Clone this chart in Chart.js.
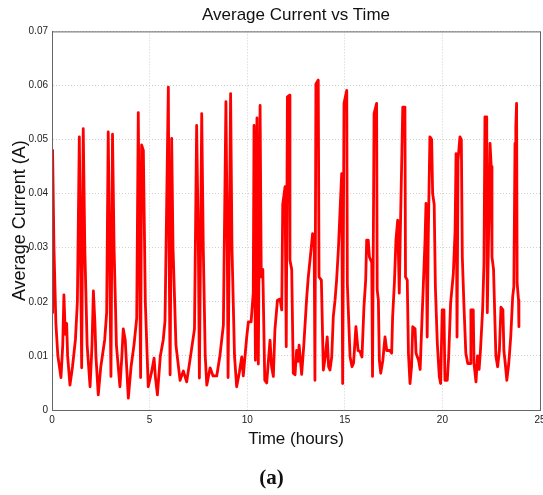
<!DOCTYPE html>
<html>
<head>
<meta charset="utf-8">
<script src="https://cdn.jsdelivr.net/npm/chart.js@4"></script>
<style>
  body { margin: 0; background: #fff; }
  .wrap { position: relative; width: 543px; height: 495px; }
  .caption {
    position: absolute; left: 0; width: 543px; top: 465px;
    text-align: center; font: bold 21px "Liberation Serif", "Times New Roman", serif; color: #111;
  }
</style>
</head>
<body>
<div class="wrap">
  <canvas id="chart1" width="543" height="495"></canvas>
  <div class="caption">(a)</div>
</div>
<script>
// time in hours
const hours = [
  0, 0.03, 0.1, 0.2, 0.3, 0.46, 0.55, 0.61, 0.68, 0.75, 0.8, 0.92, 1.05, 1.2, 1.3, 1.4, 1.46, 1.52, 1.6, 1.68,
  1.8, 1.95, 2.05, 2.12, 2.2, 2.25, 2.37, 2.5, 2.7, 2.8, 2.88, 2.95, 3.02, 3.1, 3.18, 3.3, 3.48, 3.58, 3.65, 3.75,
  3.91, 4.05, 4.2, 4.34, 4.42, 4.48, 4.54, 4.59, 4.68, 4.78, 4.93, 5.1, 5.23, 5.3, 5.4, 5.55, 5.7, 5.79, 5.96, 6.0,
  6.05, 6.13, 6.2, 6.35, 6.56, 6.73, 6.9, 7.1, 7.3, 7.41, 7.5, 7.55, 7.67, 7.75, 7.85, 7.93, 8.1, 8.25, 8.44, 8.6,
  8.78, 8.91, 8.98, 9.02, 9.15, 9.22, 9.35, 9.46, 9.6, 9.72, 9.8, 9.97, 10.06, 10.2, 10.31, 10.35, 10.42, 10.5, 10.57, 10.66,
  10.72, 10.8, 10.9, 11.0, 11.08, 11.17, 11.25, 11.34, 11.42, 11.55, 11.68, 11.77, 11.82, 11.94, 12.0, 12.06, 12.16, 12.19, 12.28, 12.36,
  12.45, 12.53, 12.6, 12.66, 12.79, 12.9, 13.05, 13.13, 13.27, 13.35, 13.43, 13.47, 13.52, 13.64, 13.68, 13.8, 13.9, 14.0, 14.1, 14.17,
  14.24, 14.33, 14.41, 14.5, 14.58, 14.67, 14.75, 14.84, 14.89, 14.96, 15.1, 15.13, 15.27, 15.37, 15.45, 15.57, 15.68, 15.78, 15.88, 15.98,
  16.07, 16.12, 16.2, 16.26, 16.38, 16.42, 16.5, 16.63, 16.66, 16.72, 16.77, 16.84, 16.95, 17.06, 17.15, 17.3, 17.4, 17.45, 17.54, 17.62,
  17.71, 17.79, 17.85, 17.97, 18.08, 18.11, 18.2, 18.26, 18.34, 18.42, 18.48, 18.6, 18.65, 18.78, 18.86, 18.94, 19.02, 19.11, 19.16, 19.22,
  19.28, 19.36, 19.45, 19.5, 19.58, 19.64, 19.74, 19.84, 19.91, 19.99, 20.08, 20.13, 20.25, 20.32, 20.42, 20.56, 20.65, 20.7, 20.75, 20.8,
  20.9, 20.97, 21.02, 21.1, 21.2, 21.3, 21.42, 21.46, 21.58, 21.62, 21.72, 21.8, 21.88, 21.95, 22.06, 22.13, 22.18, 22.27, 22.3, 22.36,
  22.44, 22.5, 22.54, 22.62, 22.68, 22.74, 22.83, 22.92, 23.0, 23.1, 23.15, 23.22, 23.3, 23.4, 23.5, 23.6, 23.66, 23.72, 23.76, 23.8,
  23.83, 23.9, 23.92
];
// average current in A
const current = [
  0.018, 0.048, 0.030, 0.016, 0.010, 0.006, 0.012, 0.0213, 0.014, 0.016, 0.010, 0.0046, 0.008, 0.013, 0.020, 0.0505, 0.030, 0.0078, 0.052, 0.030,
  0.012, 0.0043, 0.012, 0.022, 0.016, 0.010, 0.0028, 0.008, 0.013, 0.018, 0.0514, 0.030, 0.0062, 0.051, 0.030, 0.012, 0.0043, 0.010, 0.015, 0.013,
  0.0022, 0.008, 0.012, 0.017, 0.055, 0.030, 0.006, 0.049, 0.048, 0.020, 0.0043, 0.007, 0.0096, 0.006, 0.0028, 0.010, 0.013, 0.0165, 0.0597, 0.030,
  0.0065, 0.0502, 0.030, 0.012, 0.0055, 0.0072, 0.0052, 0.010, 0.015, 0.0526, 0.030, 0.0059, 0.0548, 0.030, 0.010, 0.0046, 0.0078, 0.0063, 0.0063, 0.010,
  0.0157, 0.057, 0.030, 0.006, 0.0585, 0.030, 0.010, 0.0043, 0.007, 0.0098, 0.0063, 0.0133, 0.0163, 0.0163, 0.0216, 0.0526, 0.0092, 0.054, 0.0085, 0.0563,
  0.0246, 0.026, 0.0055, 0.005, 0.0088, 0.0129, 0.008, 0.0062, 0.0148, 0.0203, 0.0205, 0.0185, 0.038, 0.0413, 0.0117, 0.0579, 0.0582, 0.0277, 0.026, 0.0068,
  0.0065, 0.011, 0.009, 0.012, 0.0066, 0.012, 0.0209, 0.0246, 0.0296, 0.0326, 0.032, 0.0055, 0.0603, 0.061, 0.0246, 0.024, 0.0074, 0.0098, 0.0135, 0.008,
  0.0074, 0.0098, 0.0172, 0.0203, 0.024, 0.0296, 0.0363, 0.0437, 0.0049, 0.0567, 0.0591, 0.0234, 0.0098, 0.008, 0.0087, 0.0154, 0.011, 0.0108, 0.0098, 0.019,
  0.024, 0.0314, 0.0314, 0.0283, 0.0273, 0.0062, 0.0548, 0.0567, 0.0222, 0.0203, 0.0092, 0.0068, 0.0092, 0.0135, 0.011, 0.011, 0.0105, 0.0172, 0.0234, 0.0314,
  0.0351, 0.0216, 0.0339, 0.056, 0.056, 0.0246, 0.024, 0.0105, 0.0049, 0.008, 0.0154, 0.015, 0.0105, 0.0092, 0.0075, 0.0154, 0.0228, 0.0314, 0.0382, 0.0135,
  0.033, 0.0505, 0.050, 0.040, 0.038, 0.0228, 0.0123, 0.0062, 0.0049, 0.0185, 0.0185, 0.0055, 0.0055, 0.0098, 0.0197, 0.0252, 0.0332, 0.0474, 0.0135, 0.0462,
  0.0505, 0.050, 0.0283, 0.0197, 0.0105, 0.0086, 0.0086, 0.0185, 0.0185, 0.0086, 0.0052, 0.010, 0.0075, 0.011, 0.0185, 0.0271, 0.0542, 0.0542, 0.018, 0.031,
  0.0493, 0.045, 0.0283, 0.026, 0.0179, 0.010, 0.008, 0.011, 0.019, 0.0185, 0.011, 0.0086, 0.0055, 0.0086, 0.0135, 0.0209, 0.0228, 0.0493, 0.0523, 0.0567,
  0.0234, 0.0203, 0.0154
];
const xTicks = [0, 5, 10, 15, 20, 25];
const yTicks = [0, 0.01, 0.02, 0.03, 0.04, 0.05, 0.06, 0.07];

const points = hours.map((h, i) => ({ x: h, y: current[i] }));

const font = "'Liberation Sans', Arial, sans-serif";

// box round the plot area, like matlab
const boxPlugin = {
  id: "box",
  afterDraw(chart) {
    const a = chart.chartArea;
    const ctx = chart.ctx;
    ctx.save();
    ctx.strokeStyle = "#666";
    ctx.lineWidth = 1;
    ctx.strokeRect(a.left + 0.5, a.top + 0.5, a.right - a.left, a.bottom - a.top);
    ctx.restore();
  },
};

const config1 = {
  type: "line",
  data: {
    datasets: [
      {
        label: "Average Current",
        data: points,
        borderColor: "#ff0000",
        borderWidth: 2.8,
        borderJoinStyle: "round",
        borderCapStyle: "round",
        pointRadius: 0,
        tension: 0,
        fill: false,
      },
    ],
  },
  options: {
    responsive: false,
    animation: false,
    layout: { padding: { top: 5, right: 3, bottom: 45, left: 0 } },
    plugins: {
      legend: { display: false },
      tooltip: { enabled: false },
      title: {
        display: true,
        text: "Average Current vs Time",
        fullSize: false,
        color: "#111",
        font: { family: font, size: 17, weight: "normal" },
        padding: { top: 0, bottom: 6 },
      },
    },
    scales: {
      x: {
        type: "linear",
        min: 0,
        max: 25,
        afterBuildTicks: (s) => { s.ticks = xTicks.map((v) => ({ value: v })); },
        grid: { color: "#cfcfcf", tickLength: 0, drawTicks: false },
        border: { color: "#666", dash: [1, 2] },
        ticks: { color: "#222", font: { family: font, size: 10 }, padding: 4 },
        title: {
          display: true,
          text: "Time (hours)",
          color: "#111",
          font: { family: font, size: 17 },
          padding: { top: 0, bottom: 0 },
        },
        afterFit: (s) => { s.height = 40; s.paddingRight = 0; },
      },
      y: {
        min: 0,
        max: 0.07,
        afterBuildTicks: (s) => { s.ticks = yTicks.map((v) => ({ value: v })); },
        grid: { color: "#cfcfcf", tickLength: 0, drawTicks: false },
        border: { color: "#666", dash: [1, 2] },
        ticks: {
          color: "#222",
          font: { family: font, size: 10 },
          padding: 4,
          callback: (v) => (v === 0 ? "0" : v.toFixed(2)),
        },
        title: {
          display: true,
          text: "Average Current (A)",
          color: "#111",
          font: { family: font, size: 18 },
          padding: { top: 9, bottom: 0 },
        },
        afterFit: (s) => { s.width = 52; },
      },
    },
  },
  plugins: [boxPlugin],
};

const chart1 = document.querySelector("#chart1");
if (chart1) {
  new Chart(chart1, config1);
}
</script>
</body>
</html>
